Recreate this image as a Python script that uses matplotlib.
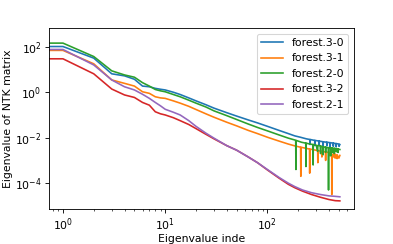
import numpy as np
import matplotlib
matplotlib.use("Agg")
import matplotlib.pyplot as plt
import matplotlib.ticker as mticker

# eigenvalue indices shared by the smooth part of every spectrum
idx = [0, 1, 2, 3, 4, 5, 6, 7, 8, 9, 10, 12, 14, 17, 20, 25, 30, 40, 50, 65, 80, 100, 130, 160, 185]

# eigenvalues, stored as log10(value)
blue_head = [2.30, 2.01, 1.50, 0.81, 0.72, 0.57, 0.27, 0.24, 0.17, 0.13, 0.10, 0.00, -0.10, -0.25, -0.38,
             -0.55, -0.70, -0.90, -1.05, -1.22, -1.35, -1.50, -1.68, -1.82, -1.92]
orange_head = [2.00, 1.84, 1.25, 0.54, 0.39, 0.27, 0.02, -0.05, -0.20, -0.25, -0.27, -0.38, -0.48, -0.62, -0.76,
               -0.95, -1.10, -1.32, -1.48, -1.68, -1.82, -1.98, -2.15, -2.28, -2.36]
green_head = [2.45, 2.16, 1.57, 0.94, 0.76, 0.66, 0.42, 0.27, 0.12, 0.06, 0.02, -0.10, -0.20, -0.35, -0.48,
              -0.65, -0.82, -1.03, -1.20, -1.40, -1.55, -1.70, -1.88, -2.02, -2.10]
red_head = [1.80, 1.47, 0.81, 0.14, -0.12, -0.23, -0.45, -0.57, -0.86, -0.95, -1.00, -1.12, -1.25, -1.42, -1.60,
            -1.85, -2.05, -2.35, -2.55, -2.85, -3.10, -3.42, -3.78, -4.05, -4.20]
purple_head = [2.10, 1.88, 1.20, 0.54, 0.24, 0.10, -0.09, -0.27, -0.45, -0.60, -0.75, -0.88, -1.00, -1.25, -1.50,
               -1.80, -2.02, -2.35, -2.55, -2.85, -3.10, -3.40, -3.75, -4.00, -4.15]

# tails (index > 185), including the numerical dips
blue_tail_x = [210, 240, 260, 261, 262, 290, 291, 292, 320, 321, 322, 350, 351, 352, 380, 381, 382,
               410, 411, 412, 440, 441, 442, 470, 471, 472, 500, 501, 511]
blue_tail = [-1.98, -2.05, -2.08, -2.30, -2.08, -2.12, -2.35, -2.12, -2.15, -2.32, -2.15, -2.18, -2.38, -2.18,
             -2.20, -2.36, -2.20, -2.22, -2.40, -2.22, -2.24, -2.38, -2.24, -2.26, -2.40, -2.26, -2.28, -2.38, -2.30]
orange_tail_x = [211, 212, 213, 240, 258, 259, 260, 290, 310, 311, 312, 340, 341, 342, 370, 371, 372,
                 400, 401, 402, 425, 426, 427, 445, 446, 460, 461, 480, 481, 500, 511]
orange_tail = [-2.42, -3.70, -2.42, -2.47, -2.50, -3.56, -2.50, -2.54, -2.57, -3.10, -2.57, -2.60, -2.85, -2.60,
               -2.63, -3.00, -2.63, -2.65, -2.80, -2.65, -2.68, -4.50, -2.75, -2.85, -2.70, -2.90, -2.72,
               -2.92, -2.75, -2.90, -2.78]
green_tail_x = [189, 190, 191, 215, 237, 238, 239, 260, 279, 280, 281, 300, 310, 311, 330, 331, 332,
                350, 351, 352, 370, 371, 372, 395, 396, 397, 415, 416, 417, 430, 431, 432,
                450, 451, 452, 470, 471, 472, 490, 491, 492, 511]
green_tail = [-2.12, -3.40, -2.12, -2.20, -2.24, -3.27, -2.24, -2.28, -2.30, -3.20, -2.30, -2.33, -2.60, -2.34,
              -2.36, -2.70, -2.37, -2.40, -2.75, -2.40, -2.42, -2.65, -2.42, -2.44, -4.30, -2.44,
              -2.45, -2.80, -2.45, -2.46, -2.65, -2.46, -2.47, -2.70, -2.47, -2.48, -2.62, -2.48,
              -2.50, -2.65, -2.50, -2.52]
red_tail_x = [220, 270, 330, 400, 460, 511]
red_tail = [-4.35, -4.50, -4.62, -4.72, -4.77, -4.78]
purple_tail_x = [220, 270, 330, 400, 460, 511]
purple_tail = [-4.30, -4.42, -4.50, -4.56, -4.58, -4.60]

series = [
    ('forest.3-0', blue_head, blue_tail_x, blue_tail),
    ('forest.3-1', orange_head, orange_tail_x, orange_tail),
    ('forest.2-0', green_head, green_tail_x, green_tail),
    ('forest.3-2', red_head, red_tail_x, red_tail),
    ('forest.2-1', purple_head, purple_tail_x, purple_tail),
]

DPI = 78
fig = plt.figure(figsize=(393 / DPI, 244 / DPI), dpi=DPI)
ax = fig.add_subplot(111)
fig.subplots_adjust(left=0.125, right=0.9, top=0.884, bottom=0.143)

for name, head, tx, tail in series:
    x = np.array(idx + tx)
    y = 10 ** np.array(head + tail)
    ax.plot(x, y, label=name)

ax.set_xscale('log')
ax.set_yscale('log')
# labels on every second decade, as in the original
ax.yaxis.set_major_locator(mticker.LogLocator(base=100))
ax.yaxis.set_minor_locator(mticker.NullLocator())
ax.set_xlabel('Eigenvalue inde', labelpad=0.5)
ax.set_ylabel('Eigenvalue of NTK matrix', labelpad=1.5)
ax.legend()
fig.savefig('out.png', dpi=DPI)
